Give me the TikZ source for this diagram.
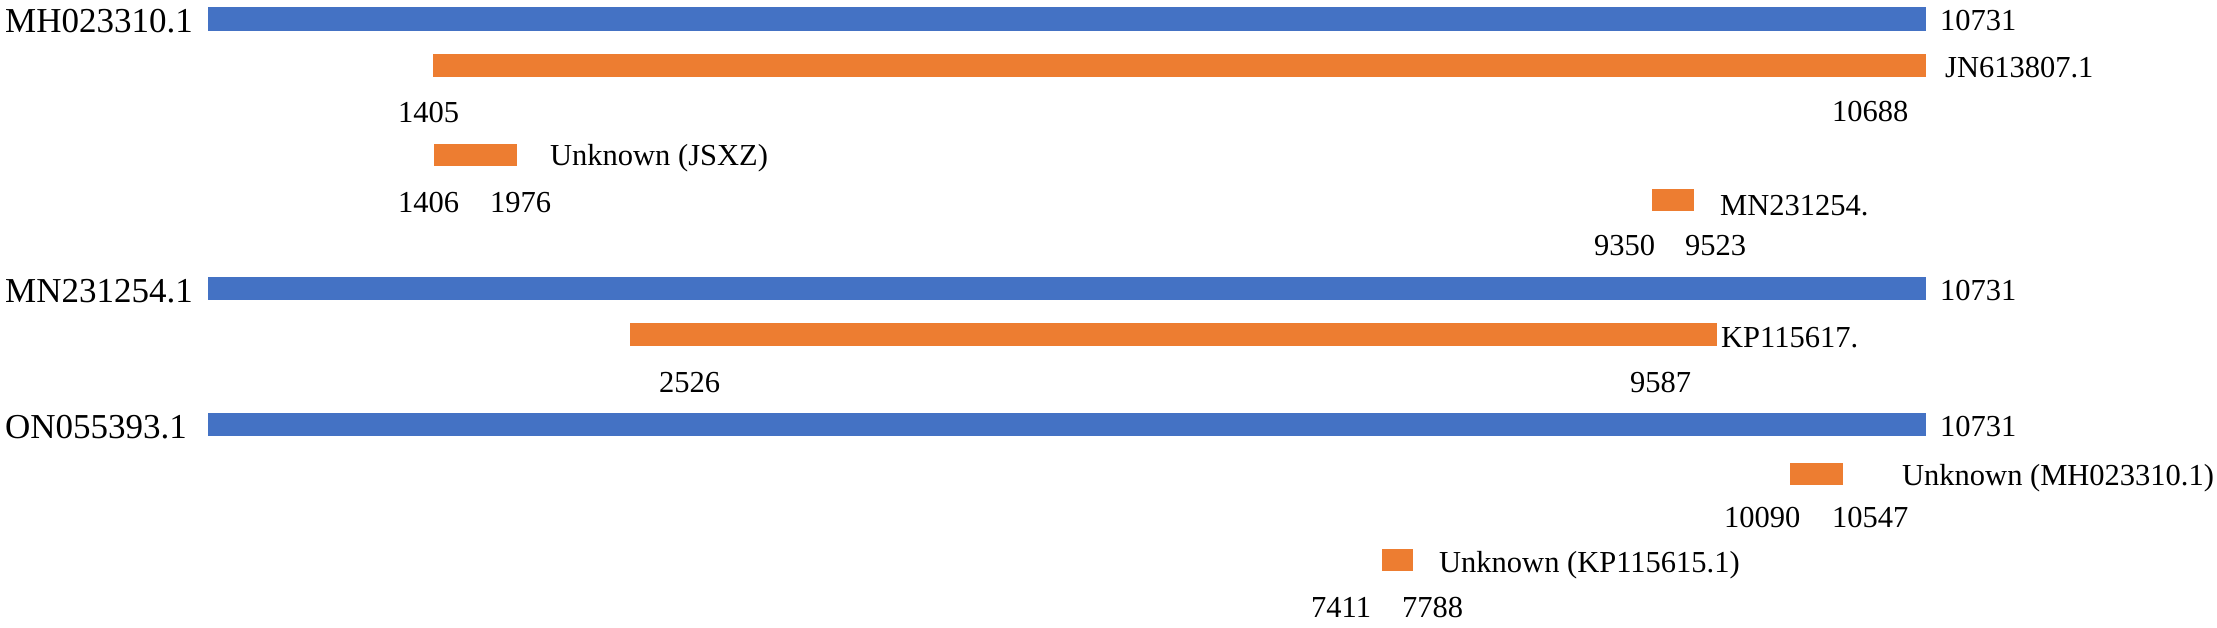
\documentclass[tikz,border=0pt]{standalone}
\usepackage{fontspec}
\setmainfont{Liberation Serif}
\definecolor{barblue}{HTML}{4472C4}
\definecolor{barorange}{HTML}{ED7D31}
\begin{document}
\begin{tikzpicture}[x=1pt,y=-1pt,
  bluebar/.style={fill=barblue, draw=none},
  orangebar/.style={fill=barorange, draw=none},
  seqlabel/.style={anchor=base west, inner sep=0pt, font=\fontsize{35}{40}\selectfont},
  txt/.style={anchor=base west, inner sep=0pt, font=\fontsize{30.5}{36}\selectfont}]
\useasboundingbox (0,0) rectangle (2217,627);
% bars
\path[bluebar]   (208,7)   rectangle (1926,31);
\path[orangebar] (433,54)  rectangle (1926,77);
\path[orangebar] (434,144) rectangle (517,166);
\path[orangebar] (1652,189) rectangle (1694,211);
\path[bluebar]   (208,277) rectangle (1926,300);
\path[orangebar] (630,323) rectangle (1717,346);
\path[bluebar]   (208,413) rectangle (1926,436);
\path[orangebar] (1790,463) rectangle (1843,485);
\path[orangebar] (1382,549) rectangle (1413,571);
% sequence labels
\node[seqlabel] (l1) at (5,32)  {MH023310.1};
\node[seqlabel] (l2) at (5,302) {MN231254.1};
\node[seqlabel] (l3) at (5,438) {ON055393.1};
% ends
\node[txt] (e1) at (1940,30)  {10731};
\node[txt] (e2) at (1940,300) {10731};
\node[txt] (e3) at (1940,436) {10731};
% row 1 details
\node[txt] (n1) at (1945,77)  {JN613807.1};
\node[txt] (a1) at (398,122)  {1405};
\node[txt] (b1) at (1832,121) {10688};
\node[txt] (n2) at (550,165)  {Unknown (JSXZ)};
\node[txt] (a2) at (398,212)  {1406};
\node[txt] (b2) at (490,212)  {1976};
\node[txt] (n3) at (1720,215) {MN231254.};
\node[txt] (a3) at (1594,255) {9350};
\node[txt] (b3) at (1685,255) {9523};
% row 2 details
\node[txt] (n4) at (1721,347) {KP115617.};
\node[txt] (a4) at (659,392)  {2526};
\node[txt] (b4) at (1630,392) {9587};
% row 3 details
\node[txt] (n5) at (1902,485) {Unknown (MH023310.1)};
\node[txt] (a5) at (1724,527) {10090};
\node[txt] (b5) at (1832,527) {10547};
\node[txt] (n6) at (1439,572) {Unknown (KP115615.1)};
\node[txt] (a6) at (1311,617) {7411};
\node[txt] (b6) at (1402,617) {7788};
\end{tikzpicture}
\end{document}
